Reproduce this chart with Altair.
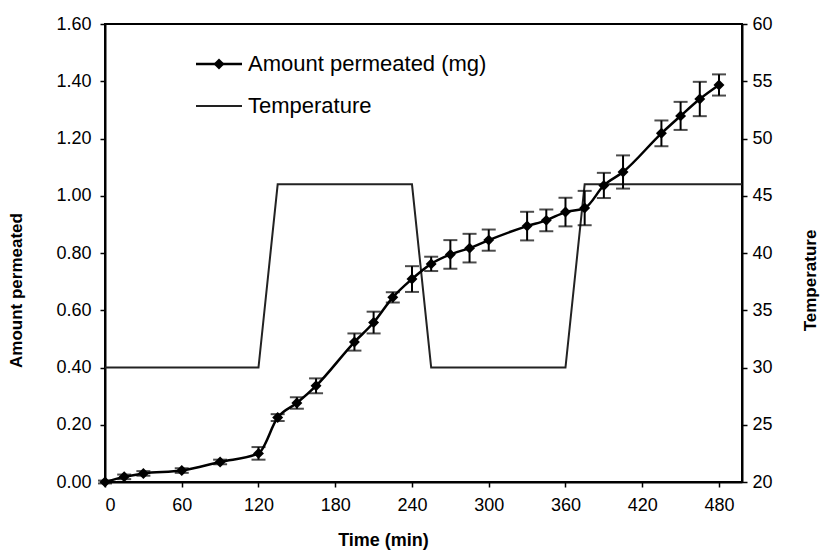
import altair as alt
import pandas as pd

# Amount permeated series
times = [0, 15, 30, 60, 90, 120, 135, 150, 165, 195, 210, 225, 240, 255, 270,
         285, 300, 330, 345, 360, 375, 390, 405, 435, 450, 465, 480]
amount = [0.00, 0.018, 0.03, 0.04, 0.07, 0.10, 0.225, 0.276, 0.336, 0.489, 0.557,
          0.645, 0.709, 0.762, 0.795, 0.817, 0.845, 0.894, 0.914, 0.943, 0.957,
          1.036, 1.083, 1.218, 1.279, 1.338, 1.387]
err = [0.005, 0.008, 0.008, 0.008, 0.008, 0.022, 0.012, 0.02, 0.026, 0.03, 0.038,
       0.018, 0.045, 0.025, 0.05, 0.05, 0.037, 0.05, 0.038, 0.05, 0.06, 0.044,
       0.058, 0.045, 0.049, 0.06, 0.037]

# Temperature profile
temp_time = [0, 120, 135, 240, 255, 360, 375, 498]
temp = [30, 30, 46, 46, 30, 30, 46, 46]

x_ticks = [0, 60, 120, 180, 240, 300, 360, 420, 480]
y_ticks = [0.0, 0.2, 0.4, 0.6, 0.8, 1.0, 1.2, 1.4, 1.6]
t_ticks = [20, 25, 30, 35, 40, 45, 50, 55, 60]

df = pd.DataFrame({"time": times, "amount": amount, "err": err})
df["lo"] = df["amount"] - df["err"]
df["hi"] = df["amount"] + df["err"]
tdf = pd.DataFrame({"time": temp_time, "temp": temp})

FONT = "Liberation Sans"
W, H = 637, 458

xscale = alt.Scale(domain=[0, 498], nice=False, zero=False)
yscale = alt.Scale(domain=[0, 1.6], nice=False)
tscale = alt.Scale(domain=[20, 60], nice=False)

xaxis = alt.Axis(values=x_ticks, title="Time  (min)", grid=False, format="d",
                 labelPadding=9, titleX=278, titleY=49, titleAnchor="middle",
                 titleFontSize=18)
yaxis = alt.Axis(values=y_ticks, format=".2f", title="Amount permeated", grid=False,
                 labelPadding=9, titleX=-80, titleY=266, titleAnchor="middle")
taxis = alt.Axis(values=t_ticks, format="d", title="Temperature", grid=False,
                 orient="right", titleAngle=270, titleX=77, titleY=256,
                 labelPadding=5, titleAnchor="middle")

X = alt.X("time:Q", scale=xscale, axis=xaxis)

temp_line = alt.Chart(tdf).mark_line(color="#222222", strokeWidth=2).encode(
    x=alt.X("time:Q", scale=xscale, axis=xaxis),
    y=alt.Y("temp:Q", scale=tscale, axis=taxis),
)

base = alt.Chart(df)
err_rule = base.mark_rule(color="black", strokeWidth=2).encode(
    x=X, y=alt.Y("lo:Q", scale=yscale, axis=yaxis), y2="hi:Q")
cap_lo = base.mark_tick(color="black", thickness=2, size=14, orient="horizontal").encode(
    x=X, y=alt.Y("lo:Q", scale=yscale, axis=yaxis))
cap_hi = base.mark_tick(color="black", thickness=2, size=14, orient="horizontal").encode(
    x=X, y=alt.Y("hi:Q", scale=yscale, axis=yaxis))
amt_line = base.mark_line(color="black", strokeWidth=2.5, interpolate="monotone").encode(
    x=X, y=alt.Y("amount:Q", scale=yscale, axis=yaxis))
amt_pts = base.mark_point(shape="diamond", filled=True, color="black", size=120,
                          opacity=1).encode(
    x=X, y=alt.Y("amount:Q", scale=yscale, axis=yaxis))

# legend (inside plot area, top-left)
leg_df = pd.DataFrame({"k": [0]})
leg = alt.Chart(leg_df)
leg1_line = leg.mark_rule(color="black", strokeWidth=2.5).encode(
    x=alt.value(91), x2=alt.value(137), y=alt.value(40))
leg1_pt = leg.mark_point(shape="diamond", filled=True, color="black", size=120,
                         opacity=1).encode(x=alt.value(114), y=alt.value(40))
leg1_txt = leg.mark_text(align="left", baseline="middle", font=FONT, fontSize=22,
                         color="black").encode(
    x=alt.value(143), y=alt.value(40), text=alt.value("Amount permeated (mg)"))
leg2_line = leg.mark_rule(color="#222222", strokeWidth=2).encode(
    x=alt.value(91), x2=alt.value(137), y=alt.value(82))
leg2_txt = leg.mark_text(align="left", baseline="middle", font=FONT, fontSize=22,
                         color="black").encode(
    x=alt.value(143), y=alt.value(82), text=alt.value("Temperature"))

left = alt.layer(err_rule, cap_lo, cap_hi, amt_line, amt_pts,
                 leg1_line, leg1_pt, leg1_txt, leg2_line, leg2_txt)

chart = alt.layer(temp_line, left).resolve_scale(y="independent").properties(
    width=W, height=H,
    autosize=alt.AutoSizeParams(type="none"),
    padding={"left": 105, "top": 24, "right": 79, "bottom": 74},
    background="white",
).configure_view(stroke="black", strokeWidth=2).configure_axis(
    domainColor="black", domainWidth=2, tickColor="black", tickWidth=1.5,
    tickSize=5, labelFont=FONT, labelFontSize=18, labelColor="black",
    titleFont=FONT, titleFontSize=17, titleFontWeight="bold",
    titleColor="black",
)

chart.save("out.html", embed_options={"renderer": "svg", "actions": False})
